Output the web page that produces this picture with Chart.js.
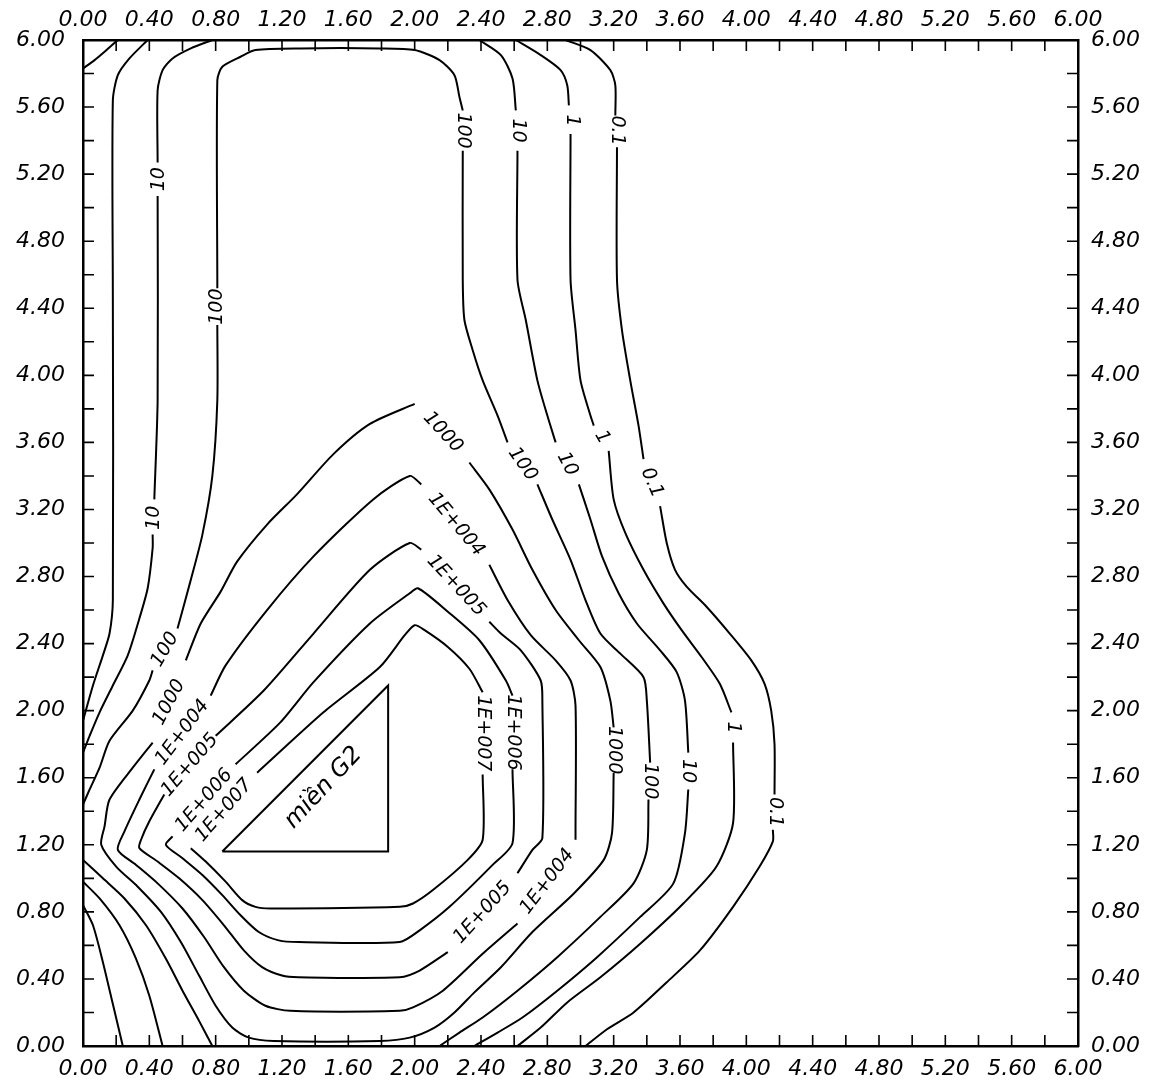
<!DOCTYPE html>
<html>
<head>
<meta charset="utf-8">
<title>Contour map</title>
<script src="https://cdn.jsdelivr.net/npm/chart.js@4.4.1/dist/chart.umd.min.js"></script>
<style>
  html, body { margin: 0; padding: 0; background: #fff; }
</style>
</head>
<body>
<canvas id="chart" width="1150" height="1085"></canvas>
<script>
// --- Axes ---
const axisMin = 0;
const axisMax = 6;
const minorStep = 0.2;
const xTickLabels = ['0.00', '0.40', '0.80', '1.20', '1.60', '2.00', '2.40', '2.80',
                     '3.20', '3.60', '4.00', '4.40', '4.80', '5.20', '5.60', '6.00'];
const yTickLabels = xTickLabels.slice();

// --- Contours (x, y), each level split where its labels sit ---
const level01 = [
    [[0, 5.83], [0.07, 5.88], [0.13, 5.93], [0.21, 6.0]],
    [[2.91, 6.0], [3.06, 5.94], [3.18, 5.82], [3.21, 5.73], [3.21, 5.55]],
    [[3.22, 5.36], [3.22, 4.57], [3.25, 4.27], [3.30, 3.97], [3.35, 3.70], [3.38, 3.50]],
    [[3.48, 3.22], [3.52, 3.00], [3.57, 2.84], [3.64, 2.74], [3.76, 2.62], [3.90, 2.46], [4.03, 2.30], [4.11, 2.16], [4.15, 2.00], [4.17, 1.80], [4.17, 1.50]],
    [[4.16, 1.29], [4.16, 1.22], [4.08, 1.07], [3.92, 0.83], [3.72, 0.57], [3.52, 0.38], [3.32, 0.20], [3.16, 0.10], [3.03, 0]]
];
const level1 = [
    [[0.39, 6.0], [0.28, 5.89], [0.21, 5.79], [0.18, 5.64], [0.18, 4.45], [0.18, 2.66], [0.16, 2.46], [0.12, 2.33], [0.06, 2.15], [0, 1.94]],
    [[0, 0.84], [0.06, 0.72], [0.12, 0.50], [0.18, 0.25], [0.24, 0]],
    [[2.61, 6.0], [2.76, 5.91], [2.88, 5.82], [2.92, 5.73], [2.93, 5.61]],
    [[2.94, 5.44], [2.94, 4.57], [2.97, 4.27], [3.00, 3.97], [3.06, 3.76], [3.08, 3.70]],
    [[3.17, 3.55], [3.20, 3.26], [3.27, 3.06], [3.38, 2.84], [3.50, 2.64], [3.61, 2.48], [3.73, 2.32], [3.84, 2.16], [3.91, 1.99]],
    [[3.92, 1.81], [3.92, 1.33], [3.82, 1.07], [3.62, 0.85], [3.36, 0.61], [3.12, 0.41], [2.92, 0.26], [2.76, 0.11], [2.62, 0]]
];
const level10 = [
    [[0.78, 6.0], [0.65, 5.95], [0.54, 5.89], [0.48, 5.82], [0.45, 5.70], [0.45, 5.27]],
    [[0.45, 5.07], [0.45, 3.85], [0.43, 3.26]],
    [[0.42, 3.05], [0.42, 2.97], [0.39, 2.73], [0.34, 2.55], [0.27, 2.33], [0.18, 2.15], [0.10, 1.99], [0.04, 1.85], [0, 1.75]],
    [[0, 0.98], [0.10, 0.88], [0.22, 0.72], [0.32, 0.52], [0.40, 0.30], [0.48, 0]],
    [[2.39, 6.0], [2.52, 5.91], [2.59, 5.77], [2.61, 5.58]],
    [[2.62, 5.34], [2.62, 4.57], [2.67, 4.33], [2.74, 3.97], [2.80, 3.76], [2.85, 3.60]],
    [[2.99, 3.35], [3.06, 3.14], [3.13, 2.92], [3.23, 2.70], [3.34, 2.52], [3.48, 2.36], [3.58, 2.23], [3.63, 2.06], [3.65, 1.75]],
    [[3.65, 1.53], [3.63, 1.27], [3.56, 0.97], [3.36, 0.77], [3.10, 0.53], [2.86, 0.33], [2.65, 0.17], [2.50, 0.08], [2.36, 0]]
];
const level100 = [
    [[0, 1.11], [0.12, 1.00], [0.25, 0.88], [0.38, 0.72], [0.50, 0.52], [0.60, 0.33], [0.70, 0.15], [0.78, 0]],
    [[0, 1.44], [0.04, 1.53], [0.10, 1.66], [0.16, 1.82], [0.30, 2.00], [0.40, 2.18], [0.42, 2.24]],
    [[0.57, 2.49], [0.65, 2.78], [0.72, 3.05], [0.78, 3.40], [0.81, 3.85], [0.81, 4.30]],
    [[0.81, 4.52], [0.81, 5.76], [0.84, 5.84], [0.95, 5.90], [1.04, 5.94], [1.31, 5.95], [1.79, 5.95], [2.00, 5.94], [2.15, 5.88], [2.24, 5.79], [2.27, 5.66], [2.29, 5.58]],
    [[2.29, 5.34], [2.29, 4.57], [2.30, 4.33], [2.35, 4.15], [2.41, 3.97], [2.50, 3.76], [2.56, 3.60]],
    [[2.74, 3.35], [2.83, 3.14], [2.94, 2.90], [3.03, 2.66], [3.12, 2.46], [3.24, 2.34], [3.38, 2.20], [3.40, 2.06], [3.42, 1.69]],
    [[3.41, 1.47], [3.40, 1.17], [3.32, 0.97], [3.12, 0.77], [2.86, 0.53], [2.62, 0.33], [2.41, 0.17], [2.27, 0.08], [2.15, 0]]
];
const level1000 = [
    [[0.42, 1.81], [0.30, 1.66], [0.16, 1.47], [0.13, 1.31], [0.11, 1.20], [0.20, 1.07], [0.33, 0.95], [0.47, 0.80], [0.59, 0.62], [0.70, 0.42], [0.80, 0.24], [0.90, 0.11], [1.00, 0.05], [1.15, 0.03],
     [1.79, 0.03], [1.97, 0.05], [2.12, 0.11], [2.24, 0.20], [2.36, 0.32], [2.52, 0.47], [2.71, 0.68], [2.96, 0.91], [3.14, 1.11], [3.19, 1.27], [3.20, 1.63]],
    [[3.20, 1.90], [3.18, 2.06], [3.12, 2.26], [2.99, 2.42], [2.85, 2.60], [2.71, 2.84], [2.59, 3.08], [2.45, 3.32], [2.33, 3.48]],
    [[2.00, 3.83], [1.73, 3.71], [1.51, 3.53], [1.29, 3.29], [1.11, 3.11], [0.93, 2.89], [0.83, 2.71], [0.71, 2.52], [0.62, 2.30]]
];
const level1e4 = [
    [[0.43, 1.65], [0.34, 1.47], [0.25, 1.28], [0.21, 1.17], [0.32, 1.08], [0.45, 0.97], [0.60, 0.82], [0.73, 0.65], [0.85, 0.47], [0.97, 0.33], [1.10, 0.24], [1.25, 0.21],
     [1.91, 0.21], [1.99, 0.23], [2.17, 0.33], [2.41, 0.55], [2.62, 0.73]],
    [[2.97, 1.23], [2.97, 1.29], [2.97, 2.03], [2.94, 2.18], [2.85, 2.30], [2.70, 2.45], [2.56, 2.66], [2.45, 2.87]],
    [[2.04, 3.35], [1.97, 3.40], [1.75, 3.26], [1.39, 2.92], [1.11, 2.60], [0.86, 2.27], [0.77, 2.09]]
];
const level1e5 = [
    [[0.49, 1.50], [0.40, 1.34], [0.35, 1.23], [0.34, 1.18], [0.45, 1.10], [0.58, 1.00], [0.72, 0.87], [0.85, 0.72], [0.97, 0.57], [1.08, 0.47], [1.20, 0.42], [1.30, 0.41],
     [1.91, 0.41], [2.03, 0.45], [2.20, 0.56]],
    [[2.62, 1.03], [2.71, 1.17], [2.77, 1.24], [2.77, 2.06], [2.76, 2.18], [2.64, 2.36], [2.52, 2.46], [2.45, 2.53]],
    [[2.04, 2.96], [1.97, 3.00], [1.73, 2.84], [1.39, 2.46], [1.09, 2.12], [0.80, 1.85]]
];
const level1e6 = [
    [[0.54, 1.25], [0.50, 1.20], [0.60, 1.12], [0.72, 1.02], [0.84, 0.90], [0.95, 0.78], [1.06, 0.68], [1.18, 0.63], [1.30, 0.62],
     [1.91, 0.62], [2.03, 0.69], [2.21, 0.83], [2.47, 1.08], [2.59, 1.21], [2.59, 1.65]],
    [[2.59, 2.09], [2.55, 2.18], [2.39, 2.42], [2.20, 2.59], [2.02, 2.73], [1.97, 2.70], [1.73, 2.52], [1.39, 2.17], [1.19, 1.93], [0.92, 1.68]]
];
const level1e7 = [
    [[1.05, 1.63], [1.45, 1.99], [1.79, 2.26], [1.94, 2.45], [2.00, 2.51], [2.06, 2.48], [2.20, 2.38], [2.33, 2.25], [2.41, 2.11]],
    [[2.41, 1.62], [2.41, 1.23], [2.32, 1.11], [2.11, 0.93], [1.99, 0.85], [1.91, 0.83], [1.13, 0.82], [1.04, 0.83], [0.96, 0.87], [0.86, 0.98], [0.74, 1.10], [0.65, 1.18]]
];
const regionG2 = [[0.84, 1.16], [1.84, 1.16], [1.84, 2.15], [0.84, 1.16]];

const levels = [level01, level1, level10, level100, level1000, level1e4, level1e5, level1e6, level1e7];

// --- Labels on the contours: [x, y, rotation in degrees, text] ---
const contourLabels = [
    [3.22, 5.46, 90, '0.1'], [2.95, 5.52, 90, '1'], [2.62, 5.46, 90, '10'], [2.29, 5.46, 90, '100'],
    [0.46, 5.17, -90, '10'], [0.81, 4.41, -90, '100'], [0.43, 3.15, -90, '10'],
    [2.17, 3.66, 47, '1000'], [2.65, 3.47, 55, '100'], [2.92, 3.47, 62, '10'], [3.13, 3.63, 60, '1'], [3.43, 3.36, 66, '0.1'],
    [2.25, 3.11, 50, '1E+004'], [2.25, 2.745, 47, '1E+005'],
    [0.495, 2.365, -60, '100'], [0.52, 2.05, -62, '1000'], [0.60, 1.87, -53, '1E+004'],
    [0.645, 1.675, -49, '1E+005'], [0.73, 1.465, -49, '1E+006'], [0.85, 1.405, -49, '1E+007'],
    [2.41, 1.865, 90, '1E+007'], [2.59, 1.87, 90, '1E+006'], [3.20, 1.765, 90, '1000'], [3.42, 1.58, 90, '100'],
    [3.65, 1.64, 90, '10'], [3.92, 1.90, 90, '1'], [4.17, 1.395, 90, '0.1'],
    [2.41, 0.795, -48, '1E+005'], [2.80, 0.98, -53, '1E+004']
];
const regionLabel = [1.45, 1.54, -47, 'miền G2'];

// --- Datasets ---
const datasets = [];
levels.forEach(pieces => {
    pieces.forEach(piece => {
        datasets.push({
            data: piece.map(([x, y]) => ({ x, y })),
            showLine: true,
            borderColor: '#000',
            borderWidth: 2,
            pointRadius: 0,
            tension: 0.25,
            fill: false
        });
    });
});
datasets.push({
    data: regionG2.map(([x, y]) => ({ x, y })),
    showLine: true,
    borderColor: '#000',
    borderWidth: 2,
    pointRadius: 0,
    tension: 0,
    fill: false
});

// --- Plugins ---
const TICK_LEN = 11;

const inwardTicks = {
    id: 'inwardTicks',
    afterDraw(chart) {
        const { ctx, chartArea: a, scales } = chart;
        ctx.save();
        ctx.strokeStyle = '#000';
        ctx.lineWidth = 1.6;
        ctx.beginPath();
        scales.x.ticks.forEach(t => {
            const p = scales.x.getPixelForValue(t.value);
            ctx.moveTo(p, a.bottom);
            ctx.lineTo(p, a.bottom - TICK_LEN);
        });
        scales.x2.ticks.forEach(t => {
            const p = scales.x2.getPixelForValue(t.value);
            ctx.moveTo(p, a.top);
            ctx.lineTo(p, a.top + TICK_LEN);
        });
        scales.y.ticks.forEach(t => {
            const p = scales.y.getPixelForValue(t.value);
            ctx.moveTo(a.left, p);
            ctx.lineTo(a.left + TICK_LEN, p);
        });
        scales.y2.ticks.forEach(t => {
            const p = scales.y2.getPixelForValue(t.value);
            ctx.moveTo(a.right, p);
            ctx.lineTo(a.right - TICK_LEN, p);
        });
        ctx.stroke();
        ctx.restore();
    }
};

const contourText = {
    id: 'contourText',
    afterDatasetsDraw(chart) {
        const { ctx, scales: { x, y } } = chart;
        const put = ([vx, vy, deg, text], font) => {
            ctx.save();
            ctx.translate(x.getPixelForValue(vx), y.getPixelForValue(vy));
            ctx.rotate(deg * Math.PI / 180);
            ctx.font = font;
            ctx.fillText(text, 0, 0);
            ctx.restore();
        };
        ctx.save();
        ctx.fillStyle = '#000';
        ctx.textAlign = 'center';
        ctx.textBaseline = 'middle';
        contourLabels.forEach(l => put(l, 'italic 19px "DejaVu Sans"'));
        put(regionLabel, 'italic 24px "DejaVu Sans"');
        ctx.restore();
    }
};

// --- Chart ---
const tickFont = { family: 'DejaVu Sans', size: 22, style: 'italic' };

function axis(position, labels, padding, fit) {
    return {
        type: 'linear',
        position: position,
        min: axisMin,
        max: axisMax,
        grid: { display: false, drawTicks: false },
        border: { display: true, color: '#000', width: 2.5 },
        ticks: {
            stepSize: minorStep,
            autoSkip: false,
            maxRotation: 0,
            padding: padding,
            color: '#000',
            font: tickFont,
            callback: (value, index) => (index % 2 ? '' : labels[index / 2])
        },
        afterFit: fit
    };
}

new Chart(document.getElementById('chart'), {
    type: 'scatter',
    data: { datasets },
    options: {
        responsive: false,
        animation: false,
        devicePixelRatio: 1,
        layout: { padding: 0 },
        plugins: { legend: { display: false }, tooltip: { enabled: false } },
        scales: {
            x: axis('bottom', xTickLabels, 10, s => { s.height = 39; }),
            x2: axis('top', xTickLabels, 7, s => { s.height = 40; }),
            y: axis('left', yTickLabels, 18, s => { s.width = 83; }),
            y2: axis('right', yTickLabels, 13, s => { s.width = 72; })
        }
    },
    plugins: [inwardTicks, contourText]
});
</script>
</body>
</html>
